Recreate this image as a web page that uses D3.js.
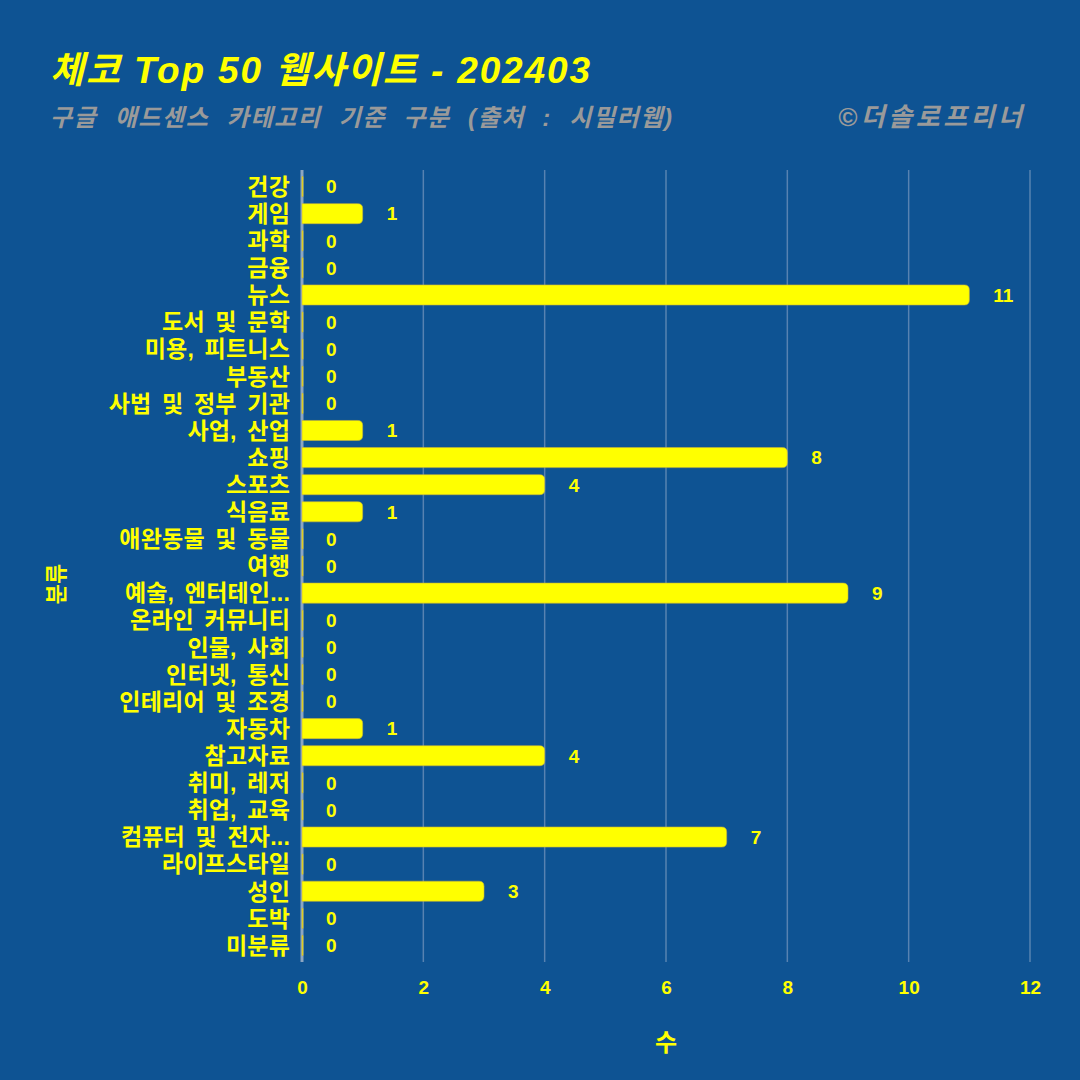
<!DOCTYPE html>
<html><head><meta charset="utf-8">
<script src="https://cdn.jsdelivr.net/npm/d3@7"></script>
<style>body{margin:0;background:#0e5393;} svg{display:block;}</style>
</head><body>
<svg id="c" width="1080" height="1080"></svg>
<script>
const categories = ["건강","게임","과학","금융","뉴스","도서 및 문학","미용, 피트니스","부동산","사법 및 정부 기관","사업, 산업","쇼핑","스포츠","식음료","애완동물 및 동물","여행","예술, 엔터테인...","온라인 커뮤니티","인물, 사회","인터넷, 통신","인테리어 및 조경","자동차","참고자료","취미, 레저","취업, 교육","컴퓨터 및 전자...","라이프스타일","성인","도박","미분류"];
const values = [0,1,0,0,11,0,0,0,0,1,8,4,1,0,0,9,0,0,0,0,1,4,0,0,7,0,3,0,0];
const xTicks = [0,2,4,6,8,10,12];
const title = "체코 Top 50 웹사이트 - 202403";
const subtitle = "구글 애드센스 카테고리 기준 구분 (출처 : 시밀러웹)";
const credit = "©더솔로프리너";
const xTitle = "수", yTitle = "분류";

(function(){
const W = 1080, H = 1080;
const FONT = "'Liberation Sans','Noto Sans CJK KR',sans-serif";
const YEL = "#ffff00";
const svg = d3.select("#c");
svg.append("rect").attr("width",W).attr("height",H).attr("fill","#0e5393");

const pL = 302, pR = 1030, pT = 173, pB = 959;
const x = d3.scaleLinear().domain([0,12]).range([pL,pR]);
const y = d3.scaleBand().domain(categories).range([pT,pB]).paddingInner(0.26).paddingOuter(0.13);

// grid
svg.append("g").selectAll("line").data(xTicks).join("line")
  .attr("x1",d=>x(d)).attr("x2",d=>x(d)).attr("y1",pT-3).attr("y2",pB+3)
  .attr("stroke",d=>d===0?"#9ab0c8":"#5f88b5").attr("stroke-width",d=>d===0?3:1.5).attr("opacity",0.9);

// bars
const bw = y.bandwidth(), r = 5;
function barPath(d){
  const x0 = x(0), x1 = x(d.v), y0 = y(d.c), h = bw;
  const rr = Math.min(r, (x1-x0)/2);
  if (d.v===0) return `M${x0},${y0}h1v${h}h-1Z`;
  return `M${x0},${y0}H${x1-rr}Q${x1},${y0} ${x1},${y0+rr}V${y0+h-rr}Q${x1},${y0+h} ${x1-rr},${y0+h}H${x0}Z`;
}
const data = categories.map((c,i)=>({c, v: values[i]}));
svg.append("g").selectAll("path").data(data).join("path")
  .attr("d",barPath).attr("fill",YEL).attr("stroke","#c8b43a").attr("stroke-width",1)
  .attr("stroke-opacity",d=>d.v===0?0.8:0.6);

// value labels
svg.append("g").selectAll("text").data(data).join("text")
  .attr("x",d=>x(d.v)+24).attr("y",d=>y(d.c)+bw/2).attr("dy","0.36em")
  .attr("text-anchor","start").attr("fill",YEL).attr("font-family",FONT)
  .attr("font-weight","bold").attr("font-size",19).text(d=>d.v);

// y axis labels
const yAxis = d3.axisLeft(y).tickSize(0).tickPadding(12);
const gy = svg.append("g").attr("transform",`translate(${pL},0)`).call(yAxis);
gy.select(".domain").remove();
gy.selectAll("text").attr("fill",YEL).attr("font-family",FONT).attr("font-weight","bold")
  .attr("font-size",23).attr("dy","0.36em").style("word-spacing","4px").style("letter-spacing","0.2px");

// x axis labels
const xAxis = d3.axisBottom(x).tickValues(xTicks).tickSize(0).tickPadding(22);
const gx = svg.append("g").attr("transform",`translate(0,${pB})`).call(xAxis);
gx.select(".domain").remove();
gx.selectAll("text").attr("fill",YEL).attr("font-family",FONT).attr("font-weight","bold").attr("font-size",19);

// axis titles
svg.append("text").attr("x",x(6)).attr("y",1051).attr("text-anchor","middle")
  .attr("fill",YEL).attr("font-family",FONT).attr("font-weight","bold").attr("font-size",24).text(xTitle);
svg.append("text").attr("transform","translate(64,584) rotate(-90)").attr("text-anchor","middle")
  .attr("fill",YEL).attr("font-family",FONT).attr("font-weight","bold").attr("font-size",22).text(yTitle);

// titles, spaced to match reference extents
function fitText(sel, target){
  const n = sel.text().length;
  const w = sel.node().getComputedTextLength();
  sel.style("letter-spacing", ((target - w)/(n-1)) + "px");
}
const t1 = svg.append("text").attr("x",50).attr("y",83).attr("fill",YEL).attr("font-family",FONT)
  .attr("font-weight","bold").attr("font-style","italic").attr("font-size",37).text(title);
fitText(t1, 540);
const t2 = svg.append("text").attr("x",50).attr("y",126).attr("fill","#9a9a9a").attr("font-family",FONT)
  .attr("font-weight","bold").attr("font-style","italic").attr("font-size",24).style("word-spacing","9px").text(subtitle);
fitText(t2, 622);
const t3 = svg.append("text").attr("x",838).attr("y",126).attr("fill","#9a9a9a").attr("font-family",FONT)
  .attr("font-weight","bold").attr("font-style","italic").attr("font-size",26).text(credit);
fitText(t3, 184);
})();
</script>
</body></html>
